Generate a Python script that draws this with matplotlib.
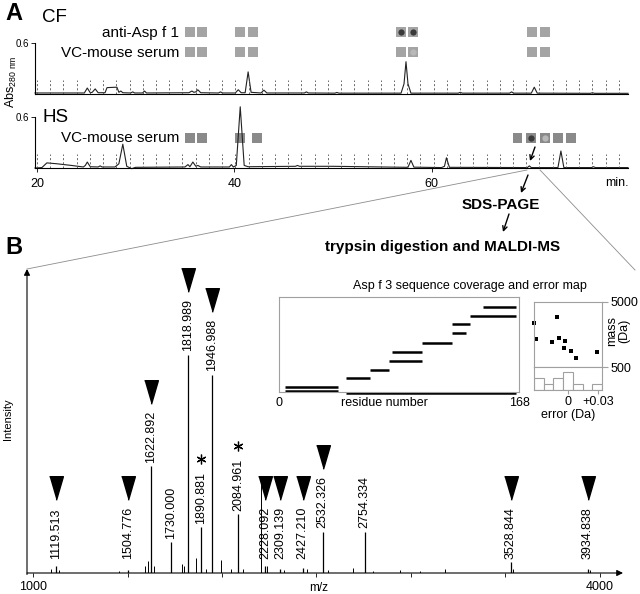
import numpy as np
import matplotlib
matplotlib.use('Agg')
import matplotlib.pyplot as plt
from matplotlib.patches import Rectangle
from matplotlib import transforms

plt.rcParams['font.family'] = ['Liberation Sans', 'DejaVu Sans']

# ---- Panel A: chromatograms (time in min, absorbance at 280 nm) ----
cf_points = [(19.8, 0.012), (24.8, 0.012), (25.1, 0.07), (25.4, 0.015), (25.6, 0.02), (25.9, 0.06),
             (26.2, 0.015), (26.9, 0.015), (27.1, 0.075), (28.1, 0.08), (28.3, 0.02), (28.5, 0.035),
             (28.7, 0.015), (29.5, 0.012), (29.7, 0.025), (29.9, 0.012), (30.7, 0.012), (30.9, 0.035),
             (31.1, 0.012), (35.4, 0.015), (35.7, 0.035), (35.9, 0.02), (36.1, 0.025), (36.3, 0.05),
             (36.6, 0.015), (38.4, 0.012), (38.6, 0.025), (38.8, 0.012), (40.1, 0.012), (40.4, 0.05),
             (40.7, 0.015), (41.1, 0.015), (41.4, 0.26), (41.7, 0.02), (42.7, 0.012), (43.0, 0.045),
             (43.3, 0.012), (47.1, 0.012), (47.3, 0.025), (47.5, 0.012), (50.2, 0.01), (50.4, 0.018),
             (50.6, 0.01), (56.9, 0.01), (57.2, 0.12), (57.4, 0.38), (57.6, 0.12), (57.9, 0.01),
             (62.7, 0.01), (62.9, 0.02), (63.1, 0.01), (67.9, 0.01), (68.1, 0.025), (68.3, 0.01),
             (70.1, 0.01), (70.4, 0.08), (70.7, 0.01), (76.1, 0.008), (76.3, 0.015), (76.5, 0.008),
             (79.9, 0.008)]

hs_points = [(19.8, 0.0), (20.5, 0.005), (21.0, 0.06), (22.0, 0.05), (23.5, 0.03), (24.7, 0.012),
             (24.9, 0.03), (25.1, 0.07), (25.4, 0.015), (26.2, 0.012), (26.4, 0.025), (26.6, 0.012),
             (27.9, 0.012), (28.1, 0.03), (28.3, 0.05), (28.7, 0.28), (29.1, 0.02), (29.6, -0.008),
             (30.0, 0.008), (35.0, 0.012), (35.3, 0.04), (35.5, 0.015), (35.8, 0.07), (36.1, 0.02),
             (36.3, 0.03), (36.6, 0.012), (39.5, 0.012), (39.7, 0.04), (39.9, 0.012), (40.2, 0.03),
             (40.6, 0.72), (41.0, 0.03), (41.4, 0.015), (46.2, 0.02), (46.4, 0.03), (46.6, 0.02),
             (50.0, 0.02), (55.0, 0.012), (57.6, 0.008), (57.9, 0.09), (58.2, 0.01), (61.0, 0.005),
             (61.3, 0.02), (61.5, 0.12), (61.8, 0.008), (69.7, 0.005), (69.9, 0.025), (70.1, 0.005),
             (72.8, 0.005), (73.1, 0.2), (73.4, 0.005), (76.2, 0.005), (76.4, 0.015), (76.6, 0.005),
             (79.9, 0.005)]

# tested fractions (min) and reactivity: 0 none, 1 weak, 2 strong
cf_fractions = [35.5, 36.7, 40.6, 41.9, 56.9, 58.1, 70.2, 71.5]
cf_asp_react = [0, 0, 0, 0, 2, 2, 0, 0]
cf_vc_react = [0, 0, 0, 0, 0, 1, 0, 0]
hs_fractions = [35.5, 36.7, 40.6, 42.3, 68.7, 70.1, 71.5, 72.8, 74.1]
hs_vc_react = [0, 0, 0, 0, 0, 2, 1, 0, 0]

# ---- Panel B: MALDI spectrum ----
peak_mz = [1119.513, 1504.776, 1622.892, 1730.000, 1818.989, 1890.881, 1946.988, 2084.961,
           2228.092, 2309.139, 2427.210, 2532.326, 2754.334, 3528.844, 3934.838]
peak_int = [3, 1.5, 49, 14, 100, 21, 91, 27, 3, 2, 2.5, 19, 19, 5, 2]
peak_mark = ['tri', 'tri', 'tri', '', 'tri', 'ast', 'tri', 'ast',
             'tri', 'tri', 'tri', 'tri', '', 'tri', 'tri']
minor_mz = [1094, 1139, 1455, 1595, 1608, 1640, 1788, 1800, 1862, 1915, 1993, 2050, 2110,
            2207, 2240, 2330, 2450, 2560, 2693, 2800, 2942, 3050, 3180, 3540, 3950]
minor_int = [2, 1.5, 1, 3, 5.5, 3, 4, 3, 7, 2, 6, 2, 2,
             42, 3, 1.5, 2, 1.5, 2.5, 1, 1.5, 1, 2, 2, 1.5]

# ---- Inset: Asp f 3 sequence coverage ----
cov_start = [47, 4, 4, 47, 64, 77, 79, 100, 121, 121, 134, 143]
cov_end = [166, 41, 41, 64, 77, 100, 100, 121, 131, 134, 166, 166]
cov_level = [-0.5, 1.5, 5.5, 14, 22, 31, 40, 49, 59, 68, 76, 85]

# ---- Inset: mass error map ----
err_da = [-0.034, -0.032, -0.011, -0.009, -0.016, -0.003, -0.0045, 0.003, 0.008, 0.029]
err_mass = [3528.844, 2427.210, 3934.838, 2532.326, 2228.092, 2309.139, 1818.989,
            1622.892, 1119.513, 1504.776]

W, H = 640, 594
fig = plt.figure(figsize=(W / 100, H / 100), dpi=100)


def fbox(l, t, r, b):
    return [l / W, 1 - b / H, (r - l) / W, (b - t) / H]


def chrom_axes(rect, points, xlabels):
    ax = fig.add_axes(fbox(*rect))
    ax.patch.set_visible(False)
    t, a = zip(*points)
    ax.plot(t, a, color='#222222', lw=0.8, clip_on=False)
    ax.set_xlim(19.8, 79.9)
    ax.set_ylim(0, 0.6)
    for s in ['top', 'right']:
        ax.spines[s].set_visible(False)
    for s in ['left', 'bottom']:
        ax.spines[s].set_linewidth(0.8)
    ax.set_yticks([0.6])
    ax.set_yticklabels(['0.6'], fontsize=7)
    ax.tick_params(axis='y', length=3, width=0.6, pad=1)
    ax.vlines(np.arange(20, 79.2, 1.34), 0, 0.165, colors='#555555', lw=0.6,
              linestyles=(0, (2.5, 2.5)))
    if xlabels:
        ax.set_xticks([20, 40, 60])
        ax.tick_params(axis='x', length=3, width=0.6, labelsize=9, pad=4)
    else:
        ax.set_xticks([])
    return ax


ax_cf = chrom_axes((35, 43, 628, 94), cf_points, False)
ax_hs = chrom_axes((35, 117, 628, 168), hs_points, True)


def squares(ax, fracs, react, yc, color):
    tr = transforms.blended_transform_factory(ax.transData, ax.transAxes)
    for f, r in zip(fracs, react):
        ax.add_patch(Rectangle((f - 0.5, yc - 0.098), 1.0, 0.196, transform=tr,
                               facecolor=color, edgecolor='none', clip_on=False))
        if r:
            ax.plot([f], [yc], 'o', ms=4.5, transform=tr, clip_on=False,
                    color='#3a3a3a' if r == 2 else '#b8b8b8', mec='none')


squares(ax_cf, cf_fractions, cf_asp_react, 1.216, '#a4a4a4')
squares(ax_cf, cf_fractions, cf_vc_react, 0.824, '#a4a4a4')
squares(ax_hs, hs_fractions, hs_vc_react, 0.588, '#8a8a8a')

# ---- spectrum ----
ax_ms = fig.add_axes(fbox(27, 269, 623, 573))
ax_ms.patch.set_visible(False)
ax_ms.set_xlim(968, 4122)
ax_ms.set_ylim(0, 139.4)
for s in ax_ms.spines.values():
    s.set_visible(False)
ax_ms.vlines(minor_mz, 0, minor_int, color='k', lw=0.7)
ax_ms.vlines(peak_mz, 0, peak_int, color='k', lw=0.9)
ax_ms.set_yticks([])
ax_ms.set_xticks(np.arange(1000, 4001, 500))
ax_ms.set_xticklabels(['1000', '', '', '', '', '', '4000'], fontsize=9)
ax_ms.tick_params(axis='x', length=3, width=0.6, pad=3)
arrow = dict(arrowstyle='-|>', lw=0.8, color='k', mutation_scale=9, shrinkA=0, shrinkB=0)
ax_ms.annotate('', xy=(1.0, 0), xytext=(0, 0), xycoords='axes fraction', arrowprops=arrow)
ax_ms.annotate('', xy=(0, 1.0), xytext=(0, -0.005), xycoords='axes fraction', arrowprops=arrow)
ax_ms.text(0.49, -0.05, 'm/z', transform=ax_ms.transAxes, fontsize=8.5, ha='center', va='center')

tri = [(-7, 12), (7, 12), (0, -12)]
for mz, inten, mark in zip(peak_mz, peak_int, peak_mark):
    yb = max(inten + 1.6, 6.4)
    ax_ms.text(mz, yb, f'{mz:.3f}', rotation=90, ha='center', va='bottom', fontsize=9)
    if mark == 'tri':
        ax_ms.plot([mz], [yb + 32.6], marker=tri, ms=17, color='k', clip_on=False)
    elif mark == 'ast':
        ax_ms.plot([mz], [yb + 29.5], marker=(6, 2, 0), ms=7, mew=0.9, color='k', clip_on=False)

# ---- coverage inset ----
ax_cov = fig.add_axes(fbox(279, 297, 519, 392))
ax_cov.set_xlim(0, 168)
ax_cov.set_ylim(0, 95)
ax_cov.hlines(cov_level, cov_start, cov_end, color='k', lw=1.8, clip_on=False)
ax_cov.set_xticks([])
ax_cov.set_yticks([])
for s in ax_cov.spines.values():
    s.set_color('#a0a0a0')
    s.set_linewidth(0.8)
ax_cov.text(0, -0.12, '0', transform=ax_cov.transAxes, ha='center', va='center', fontsize=9)
ax_cov.text(1, -0.12, '168', transform=ax_cov.transAxes, ha='center', va='center', fontsize=9)
ax_cov.text(0.44, -0.12, 'residue number', transform=ax_cov.transAxes, ha='center',
            va='center', fontsize=9)

ax_err = fig.add_axes(fbox(534, 302, 602, 367))
ax_err.scatter(err_da, err_mass, s=7, marker='s', color='k', linewidths=0, clip_on=False)
ax_err.set_xlim(-0.034, 0.034)
ax_err.set_ylim(500, 5000)
ax_err.set_xticks([])
ax_err.yaxis.tick_right()
ax_err.set_yticks([500, 5000])
ax_err.set_yticklabels(['500', '5000'], fontsize=9)
ax_err.tick_params(axis='y', length=4, width=0.8, color='#a0a0a0', pad=2)
for s in ax_err.spines.values():
    s.set_color('#a0a0a0')
    s.set_linewidth(0.8)

ax_hist = fig.add_axes(fbox(534, 367, 602, 390))
ax_hist.hist(err_da, bins=np.linspace(-0.034, 0.034, 8), facecolor='white',
             edgecolor='#a0a0a0', lw=0.8)
ax_hist.set_xlim(-0.034, 0.034)
ax_hist.set_ylim(0, 3.9)
ax_hist.set_yticks([])
ax_hist.set_xticks([0, 0.03])
ax_hist.set_xticklabels(['0', '+0.03'], fontsize=9)
ax_hist.tick_params(axis='x', length=3, width=0.8, color='#a0a0a0', pad=1)
ax_hist.set_xlabel('error (Da)', fontsize=9, labelpad=1)
for s in ax_hist.spines.values():
    s.set_color('#a0a0a0')
    s.set_linewidth(0.8)

# ---- overlay for labels, connectors and arrows (pixel coordinates) ----
ov = fig.add_axes([0, 0, 1, 1], zorder=10)
ov.set_xlim(0, W)
ov.set_ylim(H, 0)
ov.axis('off')

ov.text(14, 14, 'A', fontsize=17, fontweight='bold', ha='center', va='center')
ov.text(14, 247, 'B', fontsize=17, fontweight='bold', ha='center', va='center')
ov.text(42, 18, 'CF', fontsize=13.5, ha='left', va='center')
ov.text(42, 117, 'HS', fontsize=13.5, ha='left', va='center')
ov.text(179, 33, 'anti-Asp f 1', fontsize=11, ha='right', va='center')
ov.text(179, 53, 'VC-mouse serum', fontsize=11, ha='right', va='center')
ov.text(179, 138, 'VC-mouse serum', fontsize=11, ha='right', va='center')
ov.text(11, 82, r'Abs$_{\mathregular{280\ nm}}$', rotation=90, fontsize=9, ha='center', va='center')
ov.text(617, 183, 'min.', fontsize=9, ha='center', va='center')
ov.text(8, 419, 'Intensity', rotation=90, fontsize=8, ha='center', va='center')
ov.text(501, 205, 'SDS-PAGE', fontsize=11, fontweight='bold', ha='center', va='center')
ov.text(443, 247, 'trypsin digestion and MALDI-MS', fontsize=11, fontweight='bold',
        ha='center', va='center')
ov.text(470, 286, 'Asp f 3 sequence coverage and error map', fontsize=9, ha='center', va='center')
ov.text(618, 331, 'mass\n(Da)', rotation=90, fontsize=9, ha='center', va='center', linespacing=1.0)

ov.plot([527, 27], [170, 269], color='#8c8c8c', lw=0.6)
ov.plot([540, 635], [170, 270], color='#8c8c8c', lw=0.6)
small_arrow = dict(arrowstyle='->', lw=1.0, color='k', mutation_scale=8, shrinkA=0, shrinkB=0)
ov.annotate('', xy=(530, 161), xytext=(535, 147), arrowprops=small_arrow)
ov.annotate('', xy=(521, 193), xytext=(528, 175), arrowprops=small_arrow)
ov.annotate('', xy=(503, 232), xytext=(509, 214), arrowprops=small_arrow)

fig.savefig('out.png', dpi=100)
